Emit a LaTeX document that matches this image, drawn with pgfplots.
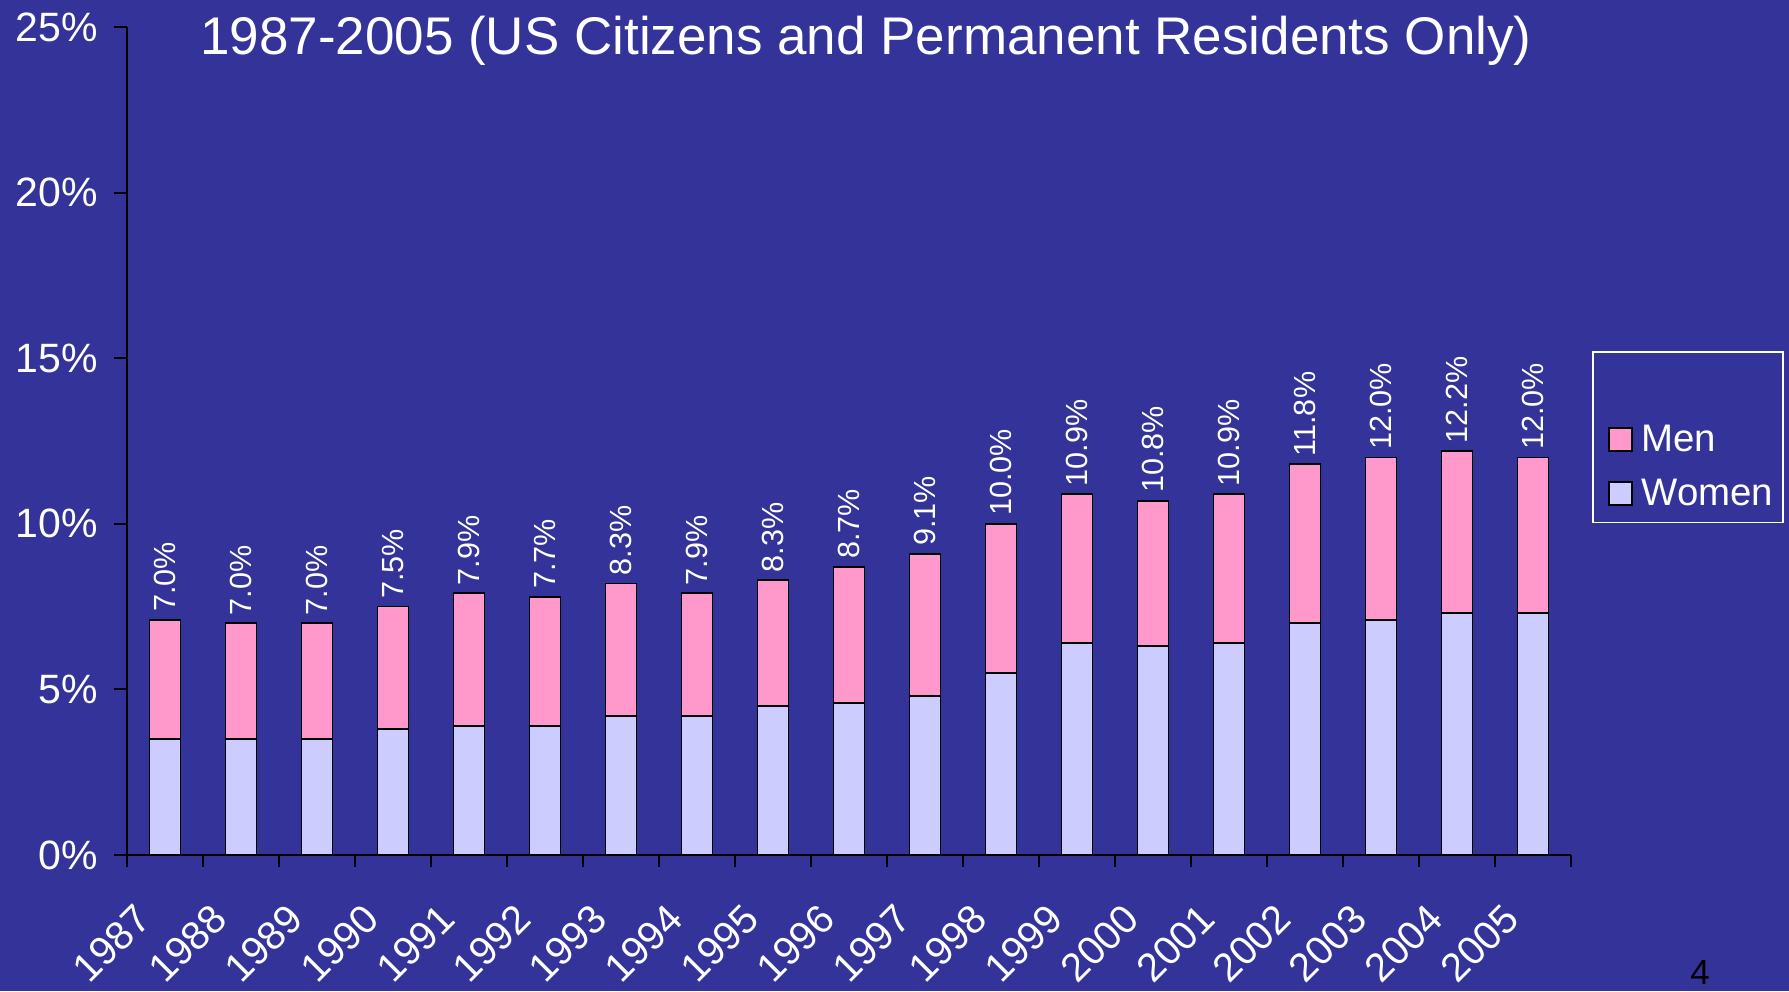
\documentclass[border=0pt]{standalone}
\usepackage{fontspec}
\setmainfont{Liberation Sans}
\usepackage{pgfplots}
\usepackage{pgfplotstable}
\pgfplotsset{compat=1.18}
\definecolor{bg}{HTML}{333399}
\definecolor{menc}{HTML}{FF99CC}
\definecolor{womc}{HTML}{CCCCFF}
\pgfplotstableread{
x women total label
0  3.5 7.1 7.0
1  3.5 7.0 7.0
2  3.5 7.0 7.0
3  3.8 7.5 7.5
4  3.9 7.9 7.9
5  3.9 7.8 7.7
6  4.2 8.2 8.3
7  4.2 7.9 7.9
8  4.5 8.3 8.3
9  4.6 8.7 8.7
10 4.8 9.1 9.1
11 5.5 10.0 10.0
12 6.4 10.9 10.9
13 6.3 10.7 10.8
14 6.4 10.9 10.9
15 7.0 11.8 11.8
16 7.1 12.0 12.0
17 7.3 12.2 12.2
18 7.3 12.0 12.0
}\datatable
\begin{document}
\begin{tikzpicture}[x=1pt,y=1pt]
\fill[bg] (0,0) rectangle (894.5,495.5);
\useasboundingbox (0,0) rectangle (894.5,495.5);
\begin{axis}[
  at={(63.5pt,68pt)}, anchor=south west,
  scale only axis, width=722pt, height=414pt,
  ybar, bar shift=0pt, bar width=15.5pt,
  xmin=-0.5, xmax=18.5, ymin=0, ymax=25,
  axis x line*=bottom, axis y line*=left,
  axis line style={black, line width=1pt},
  ytick={0,5,...,25}, yticklabels={0\%,5\%,10\%,15\%,20\%,25\%},
  xtick={0,...,18},
  xticklabels={1987,1988,1989,1990,1991,1992,1993,1994,1995,1996,1997,1998,1999,2000,2001,2002,2003,2004,2005},
  minor xtick={-0.5,0.5,...,18.5},
  major x tick style={draw=none},
  tick align=outside, major tick length=6.5pt, minor tick length=6pt,
  tick style={black, line width=1pt},
  ticklabel style={text=white},
  yticklabel style={font=\fontsize{20.5}{24}\selectfont, inner xsep=8pt},
  xticklabel style={anchor=north east, xshift=-16pt, yshift=-16pt, rotate=45, font=\fontsize{20}{23}\selectfont, inner sep=0.5pt},
  /pgf/number format/assume math mode=true,
  legend cell align=left,
  legend style={at={(1.0145,0.6087)}, anchor=north west, draw=white, line width=0.8pt, fill=none,
    text=white, font=\fontsize{19.2}{22}\selectfont, inner xsep=3pt, inner ysep=5pt, row sep=8.5pt,
    nodes={inner xsep=2pt}},
  legend image code/.code={\path (0pt,0pt) (18.5pt,0pt); \draw[#1,draw=black,line width=0.9pt] (4.7pt,-5.75pt) rectangle (16.2pt,5.75pt);},
]
\addlegendimage{empty legend}
\addlegendentry{\strut}
\addplot[fill=menc, draw=black, line width=0.9pt,
  point meta=explicit,
  nodes near coords={\pgfmathprintnumber[fixed,fixed zerofill,precision=1]{\pgfplotspointmeta}\%},
  nodes near coords align=horizontal,
  every node near coord/.append style={rotate=90, anchor=west, text=white, font=\fontsize{15.3}{17}\selectfont, inner sep=3.5pt}
  ] table[x=x, y=total, meta=label] {\datatable};
\addlegendentry{Men}
\addplot[fill=womc, draw=black, line width=0.9pt] table[x=x, y=women] {\datatable};
\addlegendentry{Women}
\end{axis}
\node[text=white, font=\fontsize{26.5}{30}\selectfont, anchor=base] at (433,468) {1987-2005 (US Citizens and Permanent Residents Only)};
\node[text=black, font=\fontsize{17.5}{20}\selectfont, anchor=base] at (850,3) {4};
\end{tikzpicture}
\end{document}
